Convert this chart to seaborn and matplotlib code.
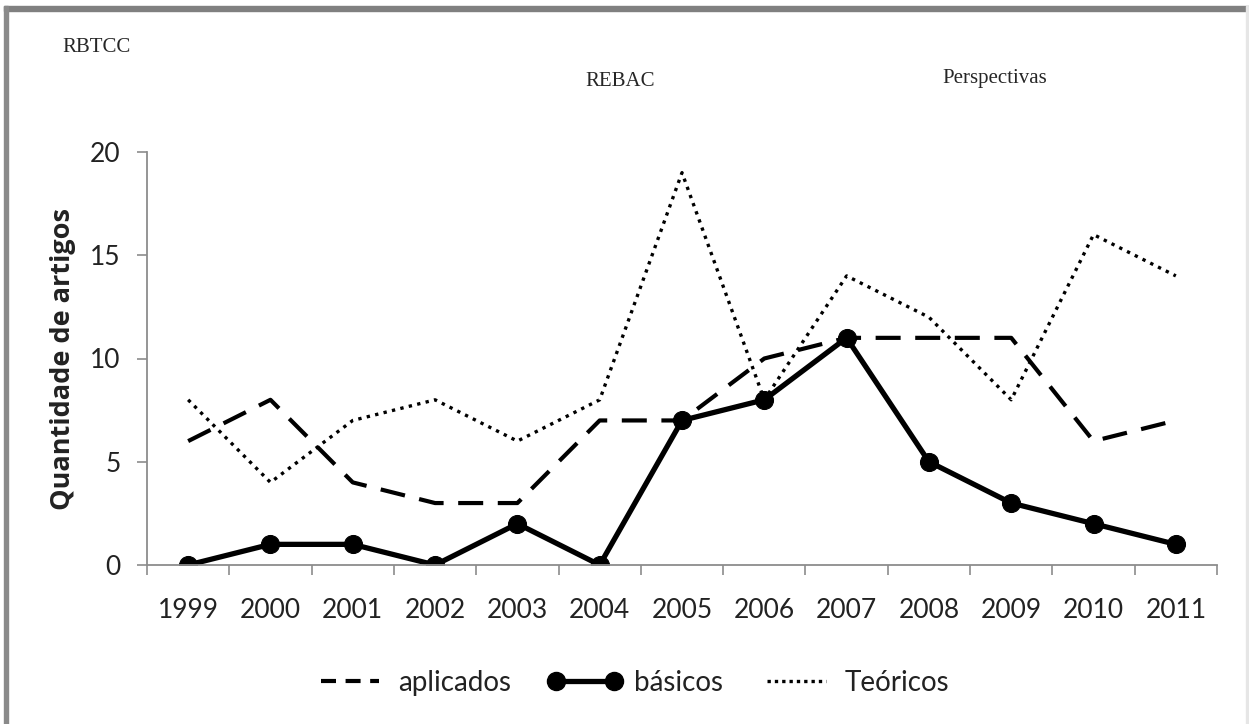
import matplotlib
matplotlib.use("Agg")
import matplotlib.pyplot as plt
from matplotlib.lines import Line2D
from matplotlib.patches import Rectangle
import seaborn as sns
import numpy as np

# Data: number of articles per year and type
anos = ["1999", "2000", "2001", "2002", "2003", "2004", "2005",
        "2006", "2007", "2008", "2009", "2010", "2011"]
aplicados = [6, 8, 4, 3, 3, 7, 7, 10, 11, 11, 11, 6, 7]
basicos = [0, 1, 1, 0, 2, 0, 7, 8, 11, 5, 3, 2, 1]
teoricos = [8, 4, 7, 8, 6, 8, 19, 8, 14, 12, 8, 16, 14]
y_ticks = [0, 5, 10, 15, 20]
revistas = ["RBTCC", "REBAC", "Perspectivas"]

sns.set_theme(style="white")
plt.rcParams["font.family"] = ["Lato", "DejaVu Sans"]

W, H = 1249, 724
fig = plt.figure(figsize=(W / 100, H / 100), dpi=100)
ax = fig.add_axes([147 / W, 1 - 565 / H, 1070 / W, 413 / H])

pos = np.arange(len(anos))

sns.lineplot(x=pos, y=aplicados, ax=ax, color="black", linewidth=3.0,
             label="aplicados")
ax.lines[-1].set_dashes((6, 3.5))
sns.lineplot(x=pos, y=basicos, ax=ax, color="black", linewidth=3.8,
             marker="o", markersize=13, markeredgecolor="black",
             label="básicos")
sns.lineplot(x=pos, y=teoricos, ax=ax, color="black", linewidth=2.4,
             label="Teóricos")
ax.lines[-1].set_dashes((1, 1.6))

ax.set_xlim(-0.5, len(anos) - 0.5)
ax.set_ylim(0, 20)

axis_gray = "#8c8c8c"
for side in ["top", "right"]:
    ax.spines[side].set_visible(False)
for side in ["left", "bottom"]:
    ax.spines[side].set_color(axis_gray)
    ax.spines[side].set_linewidth(1.3)

ax.set_yticks(y_ticks)
ax.tick_params(axis="y", which="major", direction="out", length=7,
               width=1.2, color=axis_gray, labelsize=19, pad=12,
               labelcolor="#222222", left=True)

ax.set_xticks(pos)
ax.set_xticklabels(anos)
ax.set_xticks(np.arange(-0.5, len(anos)), minor=True)
ax.tick_params(axis="x", which="major", length=0, labelsize=19, pad=24,
               labelcolor="#222222")
ax.tick_params(axis="x", which="minor", direction="out", length=7,
               width=1.2, color=axis_gray, bottom=True)

ax.set_xlabel("")
ax.set_ylabel("Quantidade de artigos", fontsize=19.5, fontweight="bold",
              family=["Open Sans", "DejaVu Sans"], color="#222222")
ax.yaxis.set_label_coords(-0.0667, 0.5)

# Legend below the plot
handles = [
    Line2D([], [], color="black", linewidth=3.0, dashes=(3.6, 2.3)),
    Line2D([], [], color="black", linewidth=3.8, marker="o", markersize=13),
    Line2D([], [], color="black", linewidth=2.4, dashes=(1, 1.2)),
]
ax.get_legend().remove()
fig.legend(handles, ["aplicados", "básicos", "Teóricos"], loc="center",
           bbox_to_anchor=(631 / W, 1 - 683 / H), ncol=3, frameon=False,
           fontsize=20, numpoints=2, handlelength=2.7, handletextpad=0.4,
           columnspacing=1.3, labelcolor="#222222")

# Journal names across the top
serif = ["Liberation Serif", "DejaVu Serif"]
fig.text(62 / W, 1 - 48 / H, revistas[0], family=serif, fontsize=15,
         ha="left", va="center")
fig.text(585 / W, 1 - 82 / H, revistas[1], family=serif, fontsize=15,
         ha="left", va="center")
fig.text(942 / W, 1 - 78 / H, revistas[2], family=serif, fontsize=15,
         ha="left", va="center")

# Frame lines
fig.patches.append(Rectangle((4 / W, 1 - 11 / H), 1245 / W, 5 / H,
                             transform=fig.transFigure, color="#808080",
                             zorder=5))
fig.patches.append(Rectangle((4 / W, 0), 4 / W, 1 - 6 / H,
                             transform=fig.transFigure, color="#8a8a8a",
                             zorder=5))
fig.patches.append(Rectangle((1246 / W, 0), 1.5 / W, 1 - 6 / H,
                             transform=fig.transFigure, color="#e6e6e6",
                             zorder=5))

fig.savefig("out.png", dpi=100)
